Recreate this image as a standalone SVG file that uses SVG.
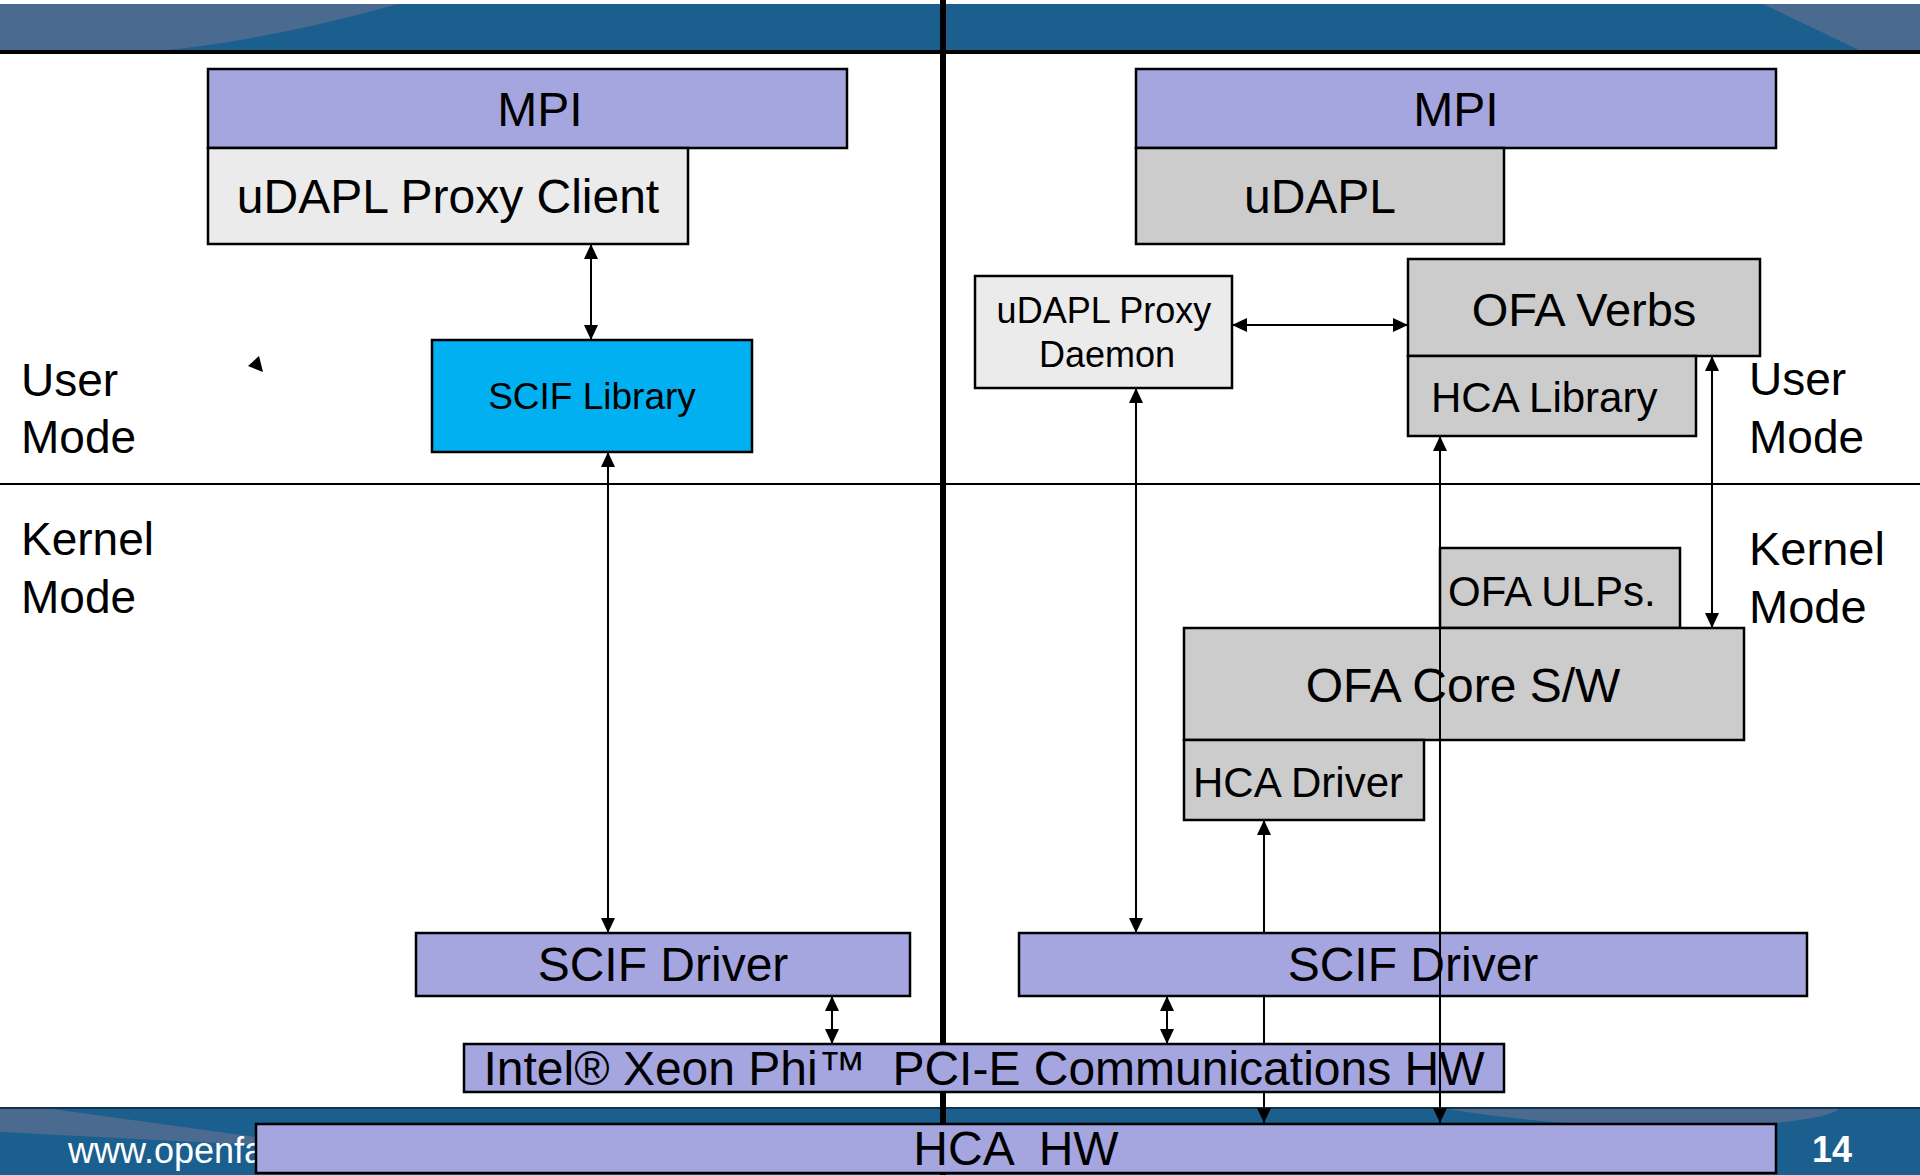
<svg xmlns="http://www.w3.org/2000/svg" width="1920" height="1175" viewBox="0 0 1920 1175">
<style>
text{font-family:"Liberation Sans",Arial,sans-serif;fill:#000}
.box{stroke:#000;stroke-width:2.5}
.lav{fill:#a5a5e0}
.lg{fill:#ebebeb}
.gr{fill:#cccccc}
.cy{fill:#00b0f0}
.t48{font-size:48px;text-anchor:middle}
.lbl{font-size:46px}
.con{stroke:#000;stroke-width:2;fill:none;marker-start:url(#ah);marker-end:url(#ah)}
</style>
<defs>
<marker id="ah" viewBox="0 0 15 14" refX="15" refY="7" markerWidth="15" markerHeight="14" markerUnits="userSpaceOnUse" orient="auto-start-reverse">
<path d="M0,0 L15,7 L0,14 z" fill="#000"/>
</marker>
</defs>
<rect width="1920" height="1175" fill="#fff"/>
<g id="top-banner">
<rect x="0" y="4" width="1920" height="47" fill="#1b5f8f"/>
<path d="M0,4 L398,4 Q270,40 159,51 L0,51 Z" fill="#4b6a8f"/>
<path d="M1763,4 L1920,4 L1920,51 L1861,51 Z" fill="#4b6a8f"/>
<rect x="0" y="50" width="1920" height="4" fill="#000"/>
</g>
<g id="bottom-banner">
<rect x="0" y="1108" width="1920" height="67" fill="#1b5f8f"/>
<path d="M0,1108 L45,1108 L256,1137 L256,1145 L0,1132 Z" fill="#4b6a8f"/>
<path d="M1440,1108 L1840,1108 Q1830,1122 1700,1128 Q1560,1128 1440,1108 Z" fill="#4b6a8f"/>
<line x1="0" y1="1108" x2="1920" y2="1108" stroke="#14324a" stroke-width="2"/>
<text x="68" y="1163" style="font-size:36px;fill:#fff">www.openfabrics.org</text>
<text x="1812" y="1162" style="font-size:36px;font-weight:bold;fill:#fff">14</text>
</g>
<line x1="0" y1="484" x2="1920" y2="484" stroke="#000" stroke-width="2"/>
<rect x="940" y="0" width="6" height="1175" fill="#000"/>
<g id="labels">
<text class="lbl" x="21" y="396">User</text>
<text class="lbl" x="21" y="453">Mode</text>
<text class="lbl" x="21" y="555">Kernel</text>
<text class="lbl" x="21" y="613">Mode</text>
<text class="lbl" x="1749" y="395">User</text>
<text class="lbl" x="1749" y="453">Mode</text>
<text class="lbl" x="1749" y="565" style="font-size:47px">Kernel</text>
<text class="lbl" x="1749" y="623" style="font-size:47px">Mode</text>
</g>
<g id="mpi-left"><rect class="box lav" x="208" y="69" width="639" height="79"/><text class="t48" x="540" y="126">MPI</text></g>
<g id="udapl-proxy-client"><rect class="box lg" x="208" y="148" width="480" height="96"/><text class="t48" x="448" y="213">uDAPL Proxy Client</text></g>
<g id="scif-library"><rect class="box cy" x="432" y="340" width="320" height="112"/><text x="592" y="409" style="font-size:37px;text-anchor:middle">SCIF Library</text></g>
<g id="scif-driver-left"><rect class="box lav" x="416" y="933" width="494" height="63"/><text class="t48" x="663" y="981">SCIF Driver</text></g>
<g id="mpi-right"><rect class="box lav" x="1136" y="69" width="640" height="79"/><text class="t48" x="1456" y="126">MPI</text></g>
<g id="udapl"><rect class="box gr" x="1136" y="148" width="368" height="96"/><text class="t48" x="1320" y="213">uDAPL</text></g>
<g id="udapl-proxy-daemon"><rect class="box lg" x="975" y="276" width="257" height="112"/><text x="1104" y="323" style="font-size:36px;text-anchor:middle">uDAPL Proxy</text><text x="1107" y="367" style="font-size:36px;text-anchor:middle">Daemon</text></g>
<g id="ofa-verbs"><rect class="box gr" x="1408" y="259" width="352" height="97"/><text x="1584" y="326" style="font-size:47px;text-anchor:middle">OFA Verbs</text></g>
<g id="hca-library"><rect class="box gr" x="1408" y="356" width="288" height="80"/><text x="1431" y="412" style="font-size:42px">HCA Library</text></g>
<g id="ofa-ulps"><rect class="box gr" x="1440" y="548" width="240" height="80"/><text x="1448" y="606" style="font-size:42px">OFA ULPs.</text></g>
<g id="ofa-core"><rect class="box gr" x="1184" y="628" width="560" height="112"/><text x="1463" y="702" style="font-size:48px;text-anchor:middle">OFA Core S/W</text></g>
<g id="hca-driver"><rect class="box gr" x="1184" y="740" width="240" height="80"/><text x="1193" y="797" style="font-size:42px">HCA Driver</text></g>
<g id="scif-driver-right"><rect class="box lav" x="1019" y="933" width="788" height="63"/><text class="t48" x="1413" y="981">SCIF Driver</text></g>
<g id="pcie-hw"><rect class="box lav" x="464" y="1044" width="1040" height="48"/><text class="t48" x="984" y="1085" xml:space="preserve">Intel® Xeon Phi™  PCI-E Communications HW</text></g>
<g id="hca-hw"><rect class="box lav" x="256" y="1124" width="1520" height="49"/><text class="t48" x="1016" y="1165" xml:space="preserve">HCA  HW</text></g>
<g id="connectors">
<path class="con" d="M591,244 V340"/>
<path class="con" d="M608,452 V933"/>
<path class="con" d="M832,996 V1044"/>
<path class="con" d="M1167,996 V1044"/>
<path class="con" d="M1136,388 V933"/>
<path class="con" d="M1232,325 H1408"/>
<path class="con" d="M1264,820 V933 M1264,996 V1044 M1264,1092 V1123"/>
<path class="con" d="M1440,436 V1123"/>
<path class="con" d="M1712,356 V628"/>
<polygon points="259,356 248,366 263,372" fill="#000"/>
</g>
</svg>
